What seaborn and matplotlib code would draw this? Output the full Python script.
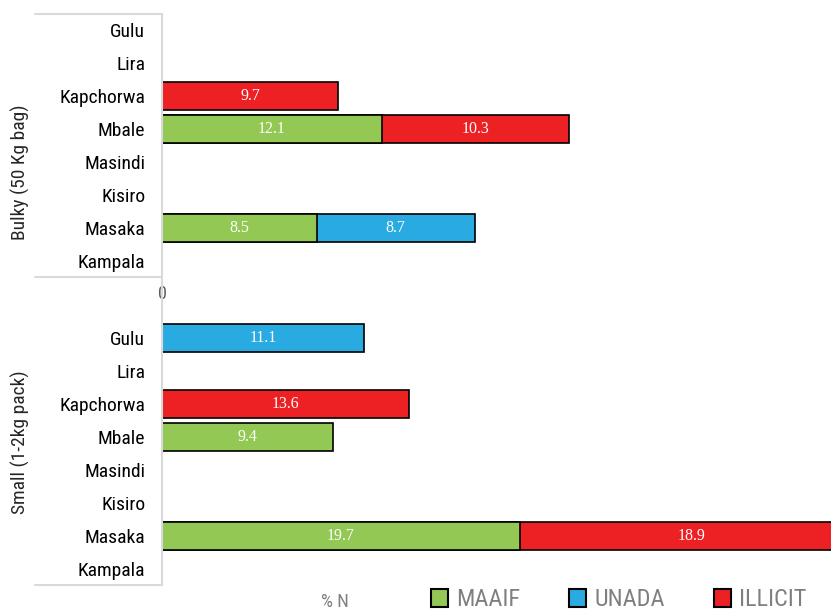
import pandas as pd
import matplotlib.pyplot as plt
import seaborn as sns
from matplotlib.patches import Patch
from matplotlib.lines import Line2D

sns.set_theme(style='white')
plt.rcParams['font.family'] = ['Roboto Condensed', 'Liberation Sans Narrow', 'Liberation Sans', 'DejaVu Sans']

# data
cities = ['Gulu', 'Lira', 'Kapchorwa', 'Mbale', 'Masindi', 'Kisiro', 'Masaka', 'Kampala']
series = ['MAAIF', 'UNADA', 'ILLICIT']
colors = {'MAAIF': '#92c853', 'UNADA': '#29abe2', 'ILLICIT': '#ed2024'}

bulky_maaif = [0, 0, 0, 12.1, 0, 0, 8.5, 0]
bulky_unada = [0, 0, 0, 0, 0, 0, 8.7, 0]
bulky_illicit = [0, 0, 9.7, 10.3, 0, 0, 0, 0]

small_maaif = [0, 0, 0, 9.4, 0, 0, 19.7, 0]
small_unada = [11.1, 0, 0, 0, 0, 0, 0, 0]
small_illicit = [0, 0, 13.6, 0, 0, 0, 18.9, 0]

groups = [
    ('Bulky (50 Kg bag)', {'MAAIF': bulky_maaif, 'UNADA': bulky_unada, 'ILLICIT': bulky_illicit}),
    ('Small (1-2kg pack)', {'MAAIF': small_maaif, 'UNADA': small_unada, 'ILLICIT': small_illicit}),
]

W, H = 831, 611
fig = plt.figure(figsize=(W / 100, H / 100), dpi=100)
ax_top = fig.add_axes([162 / W, 1 - 277 / H, 1 - 162 / W, 263 / H])
ax_bot = fig.add_axes([162 / W, 1 - 585 / H, 1 - 162 / W, 263 / H])


def draw_group(ax, values):
    df = pd.DataFrame(values, index=cities)[series]
    ends = df.cumsum(axis=1)
    starts = ends - df
    # stacked bars: draw cumulative totals, last segment first
    for s in reversed(series):
        part = pd.DataFrame({'city': cities, 'end': ends[s].values, 'v': df[s].values})
        part = part[part['v'] > 0]
        if part.empty:
            continue
        sns.barplot(data=part, x='end', y='city', order=cities, orient='h',
                    color=colors[s], saturation=1, edgecolor='black', linewidth=1.2,
                    width=0.85, errorbar=None, ax=ax)
    for i, c in enumerate(cities):
        for s in series:
            v = df.loc[c, s]
            if v > 0:
                ax.text(starts.loc[c, s] + v / 2, i, f'{v:.1f}', ha='center', va='center',
                        color='white', fontsize=11.5, family='Liberation Serif')
    ax.set_xlim(0, 36.8)
    ax.set_ylim(7.5, -0.5)
    ax.set_xlabel('')
    ax.set_ylabel('')
    for sp in ax.spines.values():
        sp.set_visible(False)
    ax.tick_params(axis='y', length=0, pad=12, labelsize=14, labelcolor='black')


for ax, (label, values) in zip([ax_top, ax_bot], groups):
    draw_group(ax, values)

ax_top.set_xticks([0])
ax_top.set_xticklabels(['0'])
ax_top.tick_params(axis='x', length=0, pad=6, labelsize=13, labelcolor='#595959')
ax_bot.set_xticks([])

# category frame lines
line_c = '#d9d9d9'
for y in [14, 277, 585]:
    fig.add_artist(Line2D([35 / W, 162 / W], [1 - y / H, 1 - y / H], color=line_c, lw=1.5,
                          transform=fig.transFigure))
fig.add_artist(Line2D([162 / W, 162 / W], [1 - 14 / H, 1 - 585 / H], color=line_c, lw=1.5,
                      transform=fig.transFigure))

fig.text(20 / W, 1 - 172 / H, groups[0][0], rotation=90, ha='center', va='center', fontsize=14)
fig.text(20 / W, 1 - 442 / H, groups[1][0], rotation=90, ha='center', va='center', fontsize=14)

fig.text(335 / W, 1 - 602 / H, '% N', ha='center', va='center', fontsize=13.5, color='#7f7f7f')

handles = [Patch(facecolor=colors[s], edgecolor='black', linewidth=1.5) for s in series]
fig.legend(handles, series, loc='center left', bbox_to_anchor=(431 / W, 1 - 600 / H), ncol=3,
           frameon=False, fontsize=17.5, handlelength=0.7, handleheight=0.7, handletextpad=0.35,
           columnspacing=2.0, borderpad=0, borderaxespad=0, labelcolor='#7f7f7f')

fig.savefig('out.png', dpi=100)
